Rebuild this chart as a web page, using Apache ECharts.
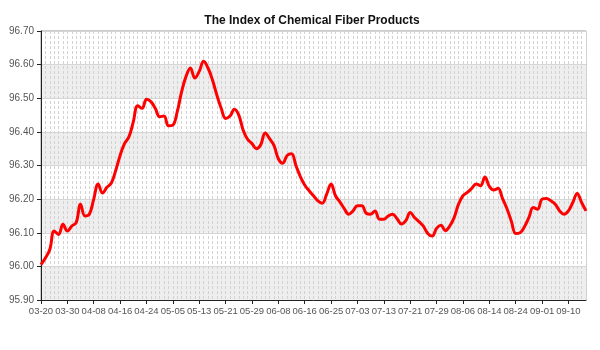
<!DOCTYPE html>
<html>
<head>
<meta charset="utf-8">
<script src="https://cdn.jsdelivr.net/npm/echarts@6/dist/echarts.min.js"></script>
<style>
html,body{margin:0;padding:0;background:#fff;}
#chart{width:600px;height:350px;}
</style>
</head>
<body>
<div id="chart"></div>
<script>
var titleText = 'The Index of Chemical Fiber Products';

var dates = [
 '03-20','03-23','03-24','03-25','03-26','03-27','03-30','03-31',
 '04-01','04-02','04-03','04-07','04-08','04-09','04-10','04-13','04-14','04-15','04-16','04-17',
 '04-20','04-21','04-22','04-23','04-24','04-27','04-28','04-29','04-30',
 '05-04','05-05','05-06','05-07','05-08','05-11','05-12','05-13','05-14','05-15','05-18','05-19',
 '05-20','05-21','05-22','05-25','05-26','05-27','05-28','05-29',
 '06-01','06-02','06-03','06-04','06-05','06-08','06-09','06-10','06-11','06-12','06-15','06-16',
 '06-17','06-18','06-19','06-23','06-24','06-25','06-26','06-29','06-30',
 '07-01','07-02','07-03','07-06','07-07','07-08','07-09','07-10','07-13','07-14','07-15','07-16',
 '07-17','07-20','07-21','07-22','07-23','07-24','07-27','07-28','07-29','07-30','07-31',
 '08-03','08-04','08-05','08-06','08-07','08-10','08-11','08-12','08-13','08-14','08-17','08-18',
 '08-19','08-20','08-21','08-24','08-25','08-26','08-27','08-28','08-31',
 '09-01','09-02','09-06','09-07','09-08','09-09','09-10','09-11','09-14','09-15','09-16'
];

var indexValues = [
 96.005, 96.025, 96.050, 96.105, 96.095, 96.125, 96.105, 96.120, 96.130, 96.185,
 96.150, 96.155, 96.200, 96.245, 96.218, 96.235, 96.248, 96.285, 96.330, 96.365,
 96.385, 96.430, 96.478, 96.470, 96.497, 96.490, 96.470, 96.445, 96.447, 96.418,
 96.420, 96.460, 96.520, 96.565, 96.590, 96.560, 96.580, 96.610, 96.590, 96.555,
 96.510, 96.470, 96.440, 96.447, 96.467, 96.450, 96.405, 96.378, 96.365, 96.350,
 96.362, 96.397, 96.380, 96.360, 96.320, 96.307, 96.330, 96.335, 96.300, 96.267,
 96.242, 96.225, 96.210, 96.195, 96.188, 96.215, 96.245, 96.210, 96.192, 96.172,
 96.155, 96.165, 96.180, 96.180, 96.158, 96.155, 96.165, 96.140, 96.140, 96.150,
 96.155, 96.142, 96.126, 96.136, 96.160, 96.145, 96.133, 96.120, 96.098, 96.090,
 96.113, 96.122, 96.106, 96.120, 96.145, 96.185, 96.210, 96.220, 96.232, 96.245,
 96.240, 96.266, 96.238, 96.227, 96.232, 96.202, 96.172, 96.135, 96.098, 96.100,
 96.118, 96.145, 96.175, 96.170, 96.200, 96.202, 96.195, 96.185, 96.165, 96.155,
 96.165, 96.190, 96.217, 96.190, 96.165
];

var yMin = 95.9, yMax = 96.7, yStep = 0.1;

var chart = echarts.init(document.getElementById('chart'), null, {renderer: 'canvas'});
chart.setOption({
  animation: false,
  backgroundColor: '#ffffff',
  textStyle: {fontFamily: '"Liberation Sans", Arial, sans-serif'},
  title: {
    text: titleText,
    left: 307,
    top: 10,
    textAlign: 'center',
    textStyle: {fontSize: 12, fontWeight: 'bold', color: '#111', fontFamily: '"Liberation Sans", Arial, sans-serif'}
  },
  grid: {
    left: 41, right: 14, top: 31, bottom: 50,
    show: true, borderColor: '#999', borderWidth: 1
  },
  xAxis: {
    type: 'category',
    data: dates,
    boundaryGap: false,
    axisLine: {show: true, lineStyle: {color: '#222', width: 1}},
    axisTick: {show: true, interval: 5, length: 4, lineStyle: {color: '#222'}},
    axisLabel: {interval: 5, fontSize: 9.5, color: '#555', margin: 6},
    splitLine: {show: true, interval: 0, lineStyle: {color: '#d2d2d2', type: [3, 2], width: 1}}
  },
  yAxis: {
    type: 'value',
    min: yMin, max: yMax, interval: yStep,
    axisLine: {show: true, lineStyle: {color: '#222', width: 1}},
    axisTick: {show: true, length: 4, lineStyle: {color: '#222'}},
    axisLabel: {fontSize: 10, color: '#555', margin: 7, formatter: function (v) { return v.toFixed(2); }},
    splitLine: {show: true, lineStyle: {color: '#d6d6d6', width: 1}},
    splitArea: {show: true, areaStyle: {color: ['#eeeeee', '#ffffff']}}
  },
  series: [{
    type: 'line',
    data: indexValues,
    smooth: 0.4,
    showSymbol: false,
    symbol: 'none',
    lineStyle: {color: '#ff0000', width: 3},
    itemStyle: {color: '#ff0000'}
  }]
});
</script>
</body>
</html>
